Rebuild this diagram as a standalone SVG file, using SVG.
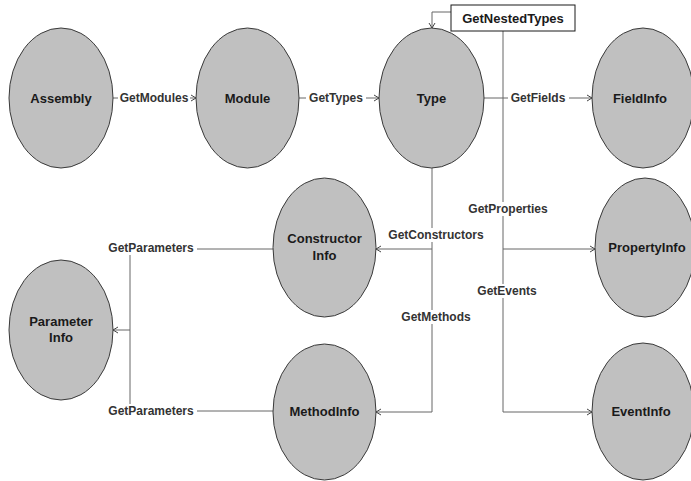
<svg xmlns="http://www.w3.org/2000/svg" width="691" height="481" viewBox="0 0 691 481">
  <style>
    .node ellipse { fill: #c0c0c0; stroke: #3a3a3a; stroke-width: 1; }
    .node text { font-family: "Liberation Sans", Arial, sans-serif; font-size: 13px; font-weight: bold; fill: #1a1a1a; text-anchor: middle; }
    .edge { fill: none; stroke: #666; stroke-width: 1; }
    .lbl { font-family: "Liberation Sans", Arial, sans-serif; font-size: 12px; font-weight: bold; fill: #333; text-anchor: middle; }
    .lblbg { fill: #fff; }
  </style>
  <defs>
    <marker id="arr" markerWidth="8" markerHeight="8" refX="6" refY="4" orient="auto" markerUnits="userSpaceOnUse">
      <path d="M1,1 L6,4 L1,7" fill="none" stroke="#444" stroke-width="1"/>
    </marker>
  </defs>
  <rect width="691" height="481" fill="#fff"/>

  <g id="connectors">
    <!-- Assembly -> Module -->
    <path class="edge" d="M113,98 H196" marker-end="url(#arr)"/>
    <!-- Module -> Type -->
    <path class="edge" d="M299,98 H379" marker-end="url(#arr)"/>
    <!-- Type -> FieldInfo -->
    <path class="edge" d="M484,98 H592" marker-end="url(#arr)"/>
    <!-- GetNestedTypes loop back into Type -->
    <path class="edge" d="M451,12 H432 V28" marker-end="url(#arr)"/>
    <!-- trunk from GetNestedTypes box to properties / events -->
    <path class="edge" d="M503,31 V412 H592" marker-end="url(#arr)"/>
    <path class="edge" d="M503,249 H595" marker-end="url(#arr)"/>
    <!-- Type -> constructors / methods -->
    <path class="edge" d="M432,168 V412 H376" marker-end="url(#arr)"/>
    <path class="edge" d="M432,249 H376" marker-end="url(#arr)"/>
    <!-- GetParameters -->
    <path class="edge" d="M273,249 H130 V411 H273"/>
    <path class="edge" d="M130,330 H113" marker-end="url(#arr)"/>

    <!-- edge labels -->
    <rect class="lblbg" x="118" y="91" width="72" height="14"/>
    <text class="lbl" x="154" y="102">GetModules</text>
    <rect class="lblbg" x="306" y="91" width="60" height="14"/>
    <text class="lbl" x="336" y="102">GetTypes</text>
    <rect class="lblbg" x="508" y="91" width="61" height="14"/>
    <text class="lbl" x="538" y="102">GetFields</text>
    <rect class="lblbg" x="465" y="202" width="86" height="14"/>
    <text class="lbl" x="508" y="213">GetProperties</text>
    <rect class="lblbg" x="475" y="284" width="66" height="14"/>
    <text class="lbl" x="507" y="295">GetEvents</text>
    <rect class="lblbg" x="386" y="228" width="100" height="14"/>
    <text class="lbl" x="436" y="239">GetConstructors</text>
    <rect class="lblbg" x="399" y="310" width="74" height="14"/>
    <text class="lbl" x="436" y="321">GetMethods</text>
    <rect class="lblbg" x="106" y="241" width="91" height="14"/>
    <text class="lbl" x="151" y="252">GetParameters</text>
    <rect class="lblbg" x="106" y="404" width="91" height="14"/>
    <text class="lbl" x="151" y="415">GetParameters</text>
  </g>

  <g id="nested-types" class="node">
    <rect x="451" y="5" width="124" height="26" fill="#fff" stroke="#1a1a1a" stroke-width="1"/>
    <text x="513" y="23">GetNestedTypes</text>
  </g>

  <g id="assembly" class="node">
    <ellipse cx="61" cy="98" rx="52" ry="70"/>
    <text x="61" y="103">Assembly</text>
  </g>
  <g id="module" class="node">
    <ellipse cx="247.5" cy="98" rx="51.5" ry="70"/>
    <text x="247.5" y="103">Module</text>
  </g>
  <g id="type" class="node">
    <ellipse cx="431.5" cy="98" rx="52.5" ry="70"/>
    <text x="431.5" y="103">Type</text>
  </g>
  <g id="fieldinfo" class="node">
    <ellipse cx="643" cy="98" rx="51" ry="70"/>
    <text x="640" y="103">FieldInfo</text>
  </g>
  <g id="constructorinfo" class="node">
    <ellipse cx="324.5" cy="247.5" rx="51.5" ry="69.5"/>
    <text x="324.5" y="243">Constructor</text>
    <text x="324.5" y="260">Info</text>
  </g>
  <g id="propertyinfo" class="node">
    <ellipse cx="645" cy="247.5" rx="50" ry="69.5"/>
    <text x="647" y="252">PropertyInfo</text>
  </g>
  <g id="parameterinfo" class="node">
    <ellipse cx="61" cy="330" rx="52" ry="70"/>
    <text x="61" y="326">Parameter</text>
    <text x="61" y="342">Info</text>
  </g>
  <g id="methodinfo" class="node">
    <ellipse cx="324.5" cy="412" rx="51.5" ry="68"/>
    <text x="324.5" y="416">MethodInfo</text>
  </g>
  <g id="eventinfo" class="node">
    <ellipse cx="643" cy="411.5" rx="51" ry="68.5"/>
    <text x="641" y="416">EventInfo</text>
  </g>
</svg>
